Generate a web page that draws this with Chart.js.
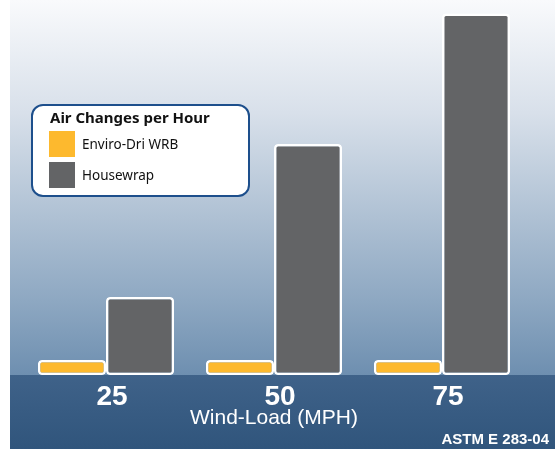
<!DOCTYPE html>
<html>
<head>
<meta charset="utf-8">
<script src="https://cdn.jsdelivr.net/npm/chart.js@4.4.1/dist/chart.umd.min.js"></script>
<style>
    body { margin: 0; background: #fff; }
    #wrap { position: relative; width: 559px; height: 449px; }
    #legend {
        position: absolute; left: 31px; top: 104px; width: 215px; height: 89px;
        border: 2px solid #1d4f8c; border-radius: 12px; background: #fff;
        font-family: "Noto Sans", sans-serif; color: #111;
    }
    #legend .title { position: absolute; left: 17px; top: 1px; font-weight: bold; font-size: 15px; }
    #legend .item { position: absolute; left: 16px; height: 26px; line-height: 26px; font-size: 13.5px; }
    #legend .swatch { display: inline-block; width: 26px; height: 26px; vertical-align: top; margin-right: 7px; }
</style>
</head>
<body>
<div id="wrap">
    <canvas id="ach-chart" width="559" height="449"></canvas>
    <div id="legend"></div>
</div>
<script>
const windLoads = ['25', '50', '75'];
const seriesNames = ['Enviro-Dri WRB', 'Housewrap'];
const enviroDri = [0.1, 0.1, 0.1];
const housewrap = [0.52, 1.54, 2.41];
const seriesColors = ['#fdb92e', '#636466'];
const legendTitle = 'Air Changes per Hour';
const axisTitle = 'Wind-Load (MPH)';
const footnote = 'ASTM E 283-04';

// background panels + footnote
const backdrop = {
    id: 'backdrop',
    beforeDraw(chart) {
        const ctx = chart.ctx;
        const area = chart.chartArea;
        ctx.save();
        ctx.fillStyle = '#ffffff';
        ctx.fillRect(0, 0, chart.width, chart.height);
        const sky = ctx.createLinearGradient(0, 0, 0, area.bottom);
        sky.addColorStop(0, '#f9fafc');
        sky.addColorStop(0.3, '#d8e0ea');
        sky.addColorStop(0.8, '#8ea8c2');
        sky.addColorStop(1, '#6e8fb0');
        ctx.fillStyle = sky;
        ctx.fillRect(10, 0, 545, area.bottom);
        const band = ctx.createLinearGradient(0, area.bottom, 0, chart.height);
        band.addColorStop(0, '#3f6289');
        band.addColorStop(1, '#30557c');
        ctx.fillStyle = band;
        ctx.fillRect(10, area.bottom, 545, chart.height - area.bottom);
        ctx.restore();
    },
    afterDraw(chart) {
        const ctx = chart.ctx;
        ctx.save();
        ctx.fillStyle = '#ffffff';
        ctx.font = 'bold 15px "Liberation Sans", Arial, sans-serif';
        ctx.textAlign = 'right';
        ctx.textBaseline = 'alphabetic';
        ctx.fillText(footnote, 549, 444);
        ctx.restore();
    },
};

const ctx = document.getElementById('ach-chart').getContext('2d');
const achChart = new Chart(ctx, {
    type: 'bar',
    data: {
        labels: windLoads,
        datasets: [
            {
                label: seriesNames[0],
                data: enviroDri,
                backgroundColor: seriesColors[0],
                borderColor: '#ffffff',
                borderWidth: 2.5,
                borderRadius: 4,
                borderSkipped: false,
            },
            {
                label: seriesNames[1],
                data: housewrap,
                backgroundColor: seriesColors[1],
                borderColor: '#ffffff',
                borderWidth: 2.5,
                borderRadius: 4,
                borderSkipped: false,
            },
        ],
    },
    options: {
        responsive: false,
        animation: false,
        layout: { padding: { left: 22, right: 33, top: 0, bottom: 17 } },
        datasets: { bar: { categoryPercentage: 0.81, barPercentage: 1.0 } },
        plugins: {
            legend: { display: false },
            tooltip: { enabled: false },
        },
        scales: {
            x: {
                grid: { display: false },
                border: { display: false },
                ticks: {
                    color: '#ffffff',
                    padding: 0,
                    labelOffset: 6,
                    font: { family: '"Liberation Sans", Arial, sans-serif', size: 28, weight: 'bold', lineHeight: 1 },
                },
                title: {
                    display: true,
                    text: axisTitle,
                    color: '#ffffff',
                    padding: { top: -3, bottom: 3 },
                    font: { family: '"Liberation Sans", Arial, sans-serif', size: 21, lineHeight: 1 },
                },
            },
            y: {
                display: false,
                min: 0,
                max: 2.5,
            },
        },
    },
    plugins: [backdrop],
});

// legend box built from the dataset labels/colours
const legendEl = document.getElementById('legend');
let html = `<div class="title">${legendTitle}</div>`;
seriesNames.forEach((name, i) => {
    html += `<div class="item" style="top:${25 + i * 31}px"><span class="swatch" style="background:${seriesColors[i]}"></span>${name}</div>`;
});
legendEl.innerHTML = html;
</script>
</body>
</html>
